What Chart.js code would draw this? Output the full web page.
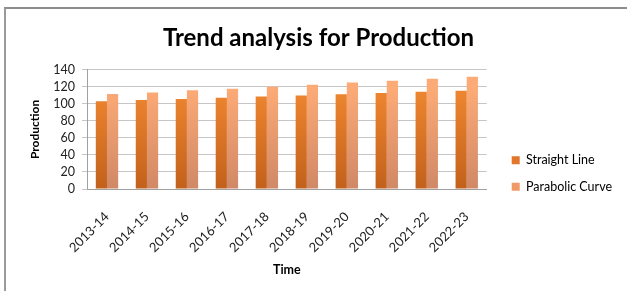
<!DOCTYPE html>
<html>
<head>
<meta charset="utf-8">
<script src="https://cdn.jsdelivr.net/npm/chart.js@4.4.1/dist/chart.umd.min.js"></script>
<style>
  html, body { margin: 0; padding: 0; background: #fff; }
  #wrap { position: relative; width: 627px; height: 291px; }
  #frame { position: absolute; left: 4px; top: 7px; right: 0; bottom: 0;
           border-top: 2px solid #8c8c8c; border-left: 2px solid #9a9a9a; }
  canvas { position: absolute; left: 0; top: 0; }
</style>
</head>
<body>
<div id="wrap">
  <div id="frame"></div>
  <canvas id="c" width="627" height="291"></canvas>
</div>
<script>
const categories = ["2013-14","2014-15","2015-16","2016-17","2017-18","2018-19","2019-20","2020-21","2021-22","2022-23"];
const straightLine = [103, 104.4, 105.7, 107.1, 108.6, 109.9, 111.4, 112.8, 114.1, 115.3];
const parabolicCurve = [111.5, 113.4, 116.1, 117.8, 120.0, 122.4, 125.0, 127.1, 129.6, 131.8];
const yTicks = [0, 20, 40, 60, 80, 100, 120, 140];

function grad(ctx, top, bottom) {
  const chart = ctx.chart;
  const area = chart.chartArea;
  if (!area) return top;
  const g = chart.ctx.createLinearGradient(0, area.top + 20, 0, area.bottom);
  g.addColorStop(0, top);
  g.addColorStop(1, bottom);
  return g;
}

const FONT = "Lato, 'Open Sans', sans-serif";

// shift legend to the reference position
const legendShift = {
  id: 'legendShift',
  afterLayout(chart) {
    const lg = chart.legend;
    if (!lg) return;
    const dy = 30, dx = 11;
    lg.top += dy; lg.bottom += dy;
    lg.left += dx; lg.right += dx;
  }
};

new Chart(document.getElementById('c'), {
  type: 'bar',
  data: {
    labels: categories,
    datasets: [
      { label: 'Straight Line', data: straightLine,
        backgroundColor: (ctx) => grad(ctx, '#ee8630', '#c2611c'), legendColor: '#e2772a' },
      { label: 'Parabolic Curve', data: parabolicCurve,
        backgroundColor: (ctx) => grad(ctx, '#fcaa76', '#d08866'), legendColor: '#f09a68' }
    ]
  },
  plugins: [legendShift],
  options: {
    responsive: false,
    animation: false,
    devicePixelRatio: 1,
    layout: { padding: { left: 26, right: 16, top: 0, bottom: 4 } },
    datasets: { bar: { categoryPercentage: 0.56, barPercentage: 1.0 } },
    plugins: {
      title: {
        display: true, text: 'Trend analysis for Production', color: '#000',
        font: { family: FONT, size: 24, weight: 'bold' },
        padding: { top: 24, bottom: 17 }
      },
      legend: {
        position: 'right',
        align: 'center',
        labels: {
          boxWidth: 8, boxHeight: 8, padding: 14, color: '#222',
          font: { family: FONT, size: 12.5 },
          generateLabels: (chart) => chart.data.datasets.map((d, i) => ({
            text: d.label, fillStyle: d.legendColor, strokeStyle: d.legendColor,
            lineWidth: 0, datasetIndex: i, hidden: false
          }))
        }
      },
      tooltip: { enabled: false }
    },
    scales: {
      x: {
        grid: { display: false },
        border: { display: true, color: '#a0a0a0' },
        afterFit: (s) => { s.height = 98; },
        ticks: { color: '#222', font: { family: FONT, size: 13 }, minRotation: 45, maxRotation: 45, padding: 12 },
        title: { display: true, text: 'Time', color: '#000', font: { family: FONT, size: 12.5, weight: 'bold' }, padding: { top: 4, bottom: 10 } }
      },
      y: {
        min: 0, max: 140,
        afterBuildTicks: (s) => { s.ticks = yTicks.map(v => ({ value: v })); },
        afterFit: (s) => { s.width = 61; },
        grid: { color: '#c6c6c6', tickLength: 5, lineWidth: 1 },
        border: { display: true, color: '#a0a0a0' },
        ticks: { color: '#222', font: { family: FONT, size: 12.5 }, padding: 7, autoSkip: false },
        title: { display: true, text: 'Production', color: '#000', font: { family: FONT, size: 12, weight: 'bold' }, padding: { top: 2, bottom: 0 } }
      }
    }
  }
});
</script>
</body>
</html>
